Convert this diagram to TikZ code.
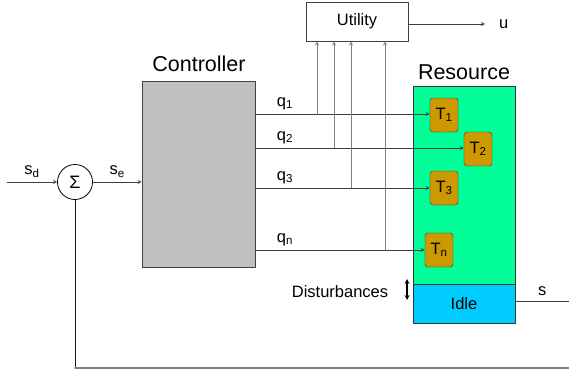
\documentclass[tikz,border=0pt]{standalone}
\usepackage{fontspec}
\setmainfont{Liberation Sans}
\usetikzlibrary{positioning}
\definecolor{ctrlgray}{HTML}{C0C0C0}
\definecolor{resgreen}{HTML}{00FF99}
\definecolor{idlecyan}{HTML}{00CCFF}
\definecolor{taskgold}{HTML}{CC9900}
\definecolor{wiregray}{HTML}{404040}
\tikzset{
  block/.style={draw=wiregray, line width=0.8pt, inner sep=0pt},
  task/.style={draw=black!80, fill=taskgold, rounded corners=3pt, minimum width=28pt, minimum height=34pt, inner sep=0pt, font=\fontsize{16.5}{18}\selectfont},
  wire/.style={draw=wiregray, line width=0.8pt},
  lbl/.style={font=\fontsize{16.5}{18}\selectfont, inner sep=1pt},
  biglbl/.style={font=\fontsize{21.5}{24}\selectfont, inner sep=1pt}
}
\begin{document}
\begin{tikzpicture}[x=1pt, y=-1pt, line cap=round, line join=round, >=stealth]
  \useasboundingbox (0,0) rectangle (569,372);
  % blocks
  \node[block, fill=ctrlgray, minimum width=113pt, minimum height=186pt] (ctrl) at (198.5,174) {};
  \node[biglbl] (ctrllbl) at (199,64) {Controller};
  \node[block, draw=black, circle, minimum size=35pt] (sum) at (75,182) {\fontsize{18}{20}\selectfont Σ};
  \node[block, fill=white, minimum width=102pt, minimum height=39pt, font=\fontsize{16.5}{18}\selectfont] (util) at (357,21.5) {Utility};
  \node[block, draw=black!80, fill=resgreen, minimum width=102pt, minimum height=198pt] (res) at (464,185) {};
  \node[biglbl] (reslbl) at (464,72) {Resource};
  \node[block, draw=black!80, fill=idlecyan, minimum width=102pt, minimum height=39pt, font=\fontsize{16.5}{18}\selectfont] (idle) at (464,303.5) {Idle};
  % tasks
  \node[task] (t1) at (444,115) {T\textsubscript{1}};
  \node[task] (t2) at (478,149) {T\textsubscript{2}};
  \node[task] (t3) at (444,188) {T\textsubscript{3}};
  \node[task] (tn) at (439,250) {T\textsubscript{n}};
  % free ends
  \coordinate (sdin) at (7,182);
  \coordinate (uend) at (485,24);
  \coordinate (send) at (569,301);
  \coordinate (fbcorner) at (75,368);
  \coordinate (fbend) at (569,368);
  \coordinate (j1) at (317,114);
  \coordinate (j2) at (334,148);
  \coordinate (j3) at (351,188);
  \coordinate (jn) at (385,250);
  % loop
  \draw[wire, ->] (sdin) -- (sum.west) node[midway, above=3pt, lbl] {s\textsubscript{d}};
  \draw[wire, ->] (sum.east) -- (sum.east -| ctrl.west) node[midway, above=3pt, lbl] {s\textsubscript{e}};
  \draw[wire, draw=black!90] (sum.south) -- (fbcorner);
  \draw[draw=gray, line width=1.5pt] (fbcorner) -- (fbend);
  \draw[wire] (idle.east |- send) -- (send) node[midway, above=4pt, lbl] {s};
  % control outputs
  \foreach \j/\t/\q in {j1/t1/1, j2/t2/2, j3/t3/3, jn/tn/n} {
    \draw[wire, ->] (ctrl.east |- \j) -- (\t.west |- \j);
    \node[lbl, above=3pt] (q\q) at (\j -| 285,0) {q\textsubscript{\q}};
  }
  % utility inputs
  \foreach \j in {j1,j2,j3,jn}
    \draw[wire, draw=gray, ->] (\j) -- (\j |- util.south);
  \draw[wire, ->] (util.east |- uend) -- (uend);
  \node[lbl, right=13pt of uend] (ulbl) {u};
  % disturbances
  \coordinate (dtop) at (407,279);
  \coordinate (dbot) at (407,300);
  \draw[line width=1.2pt, <->] (dtop) -- (dbot);
  \node[lbl] (distlbl) at (340,292) {Disturbances};
\end{tikzpicture}
\end{document}
